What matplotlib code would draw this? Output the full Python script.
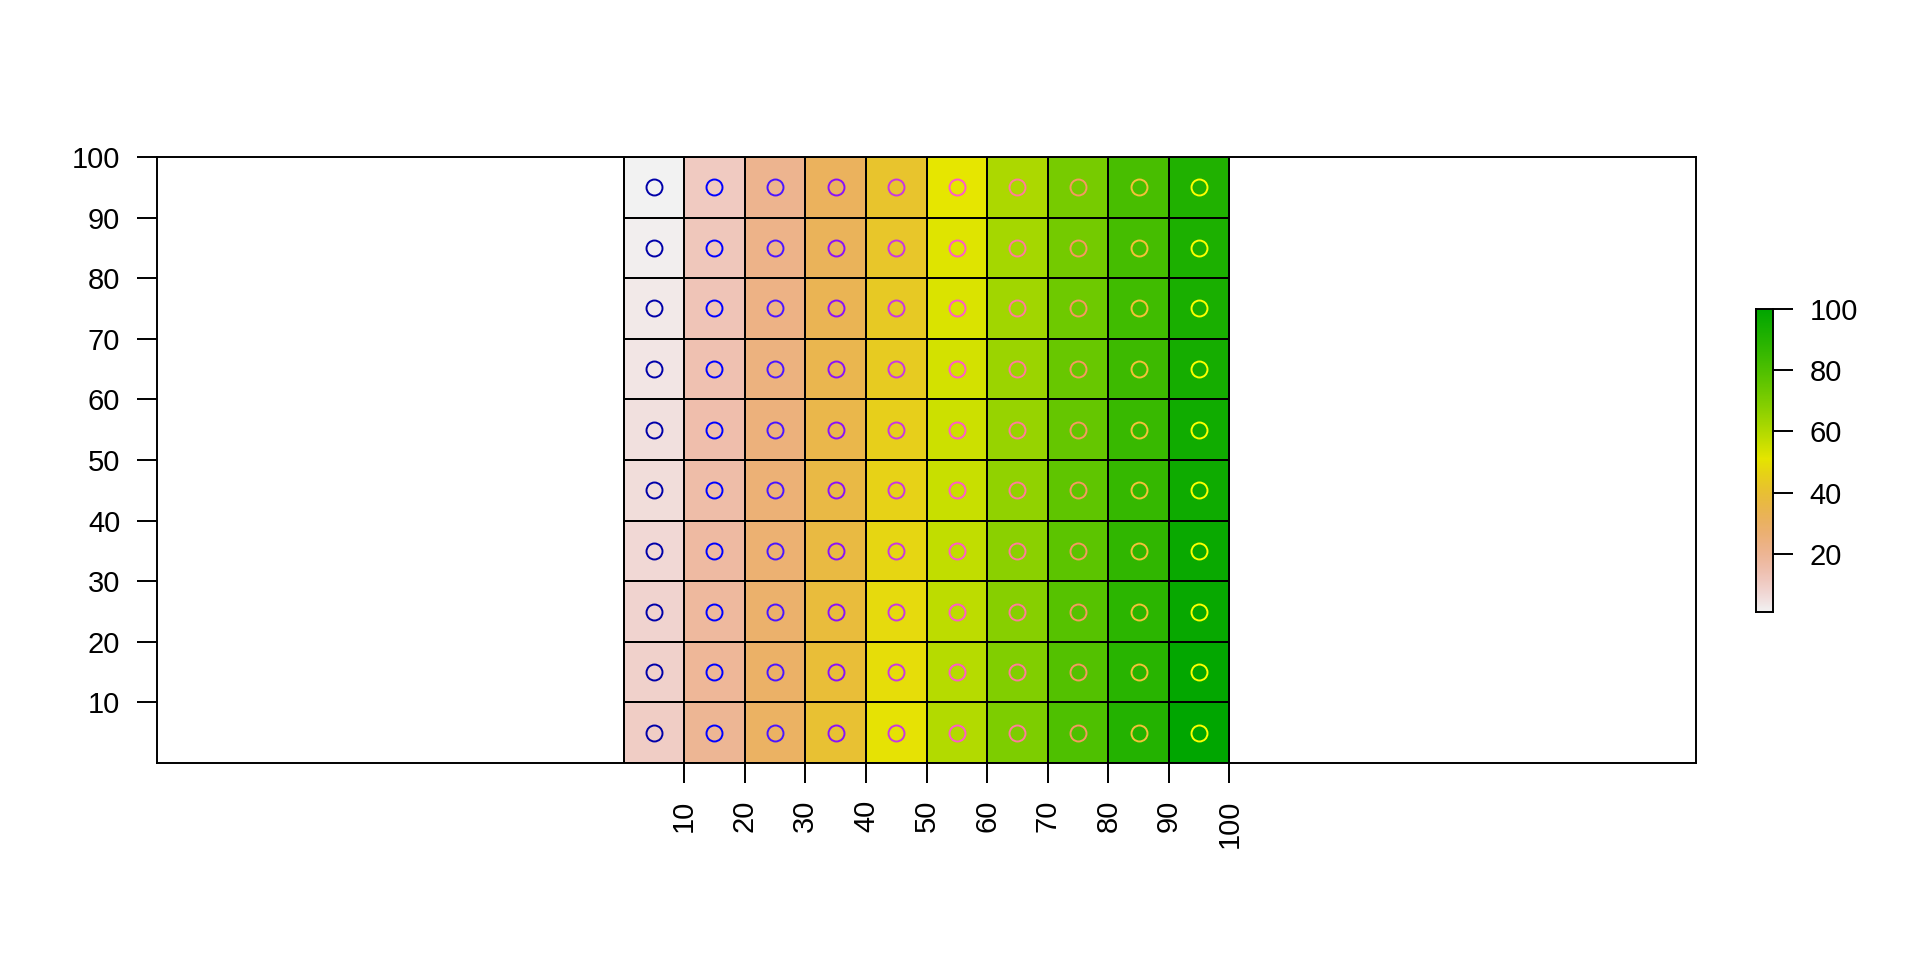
import colorsys
import numpy as np
import matplotlib
matplotlib.use("Agg")
import matplotlib.pyplot as plt
from matplotlib.colors import ListedColormap

plt.rcParams['font.family'] = ['Liberation Sans', 'DejaVu Sans']

# cell values, rows from top to bottom
cell_values = [
    [1, 11, 21, 31, 41, 51, 61, 71, 81, 91],
    [2, 12, 22, 32, 42, 52, 62, 72, 82, 92],
    [3, 13, 23, 33, 43, 53, 63, 73, 83, 93],
    [4, 14, 24, 34, 44, 54, 64, 74, 84, 94],
    [5, 15, 25, 35, 45, 55, 65, 75, 85, 95],
    [6, 16, 26, 36, 46, 56, 66, 76, 86, 96],
    [7, 17, 27, 37, 47, 57, 67, 77, 87, 97],
    [8, 18, 28, 38, 48, 58, 68, 78, 88, 98],
    [9, 19, 29, 39, 49, 59, 69, 79, 89, 99],
    [10, 20, 30, 40, 50, 60, 70, 80, 90, 100],
]
x_edges = [0, 10, 20, 30, 40, 50, 60, 70, 80, 90, 100]
y_edges = [100, 90, 80, 70, 60, 50, 40, 30, 20, 10, 0]
pt_x = [5, 15, 25, 35, 45, 55, 65, 75, 85, 95]
pt_y = [5, 15, 25, 35, 45, 55, 65, 75, 85, 95]
# point colour per column
pt_cols = ["#0000A8", "#0000FF", "#4A14FF", "#8A10F8", "#C838E0",
           "#FF5AC8", "#FF7C9C", "#F59A60", "#F5C238", "#FFFF00"]
axis_ticks = [10, 20, 30, 40, 50, 60, 70, 80, 90, 100]
cbar_ticks = [20, 40, 60, 80, 100]


def terrain_colors(n):
    # R's terrain.colors
    k = n // 2
    h = [4/12., 2/12., 0.]
    s = [1., 1., 0.]
    v = [0.65, 0.9, 0.95]
    out = []
    for hh, ss, vv in zip(np.linspace(h[0], h[1], k), np.linspace(s[0], s[1], k), np.linspace(v[0], v[1], k)):
        out.append(colorsys.hsv_to_rgb(hh, ss, vv))
    m = n - k + 1
    for hh, ss, vv in list(zip(np.linspace(h[1], h[2], m), np.linspace(s[1], s[2], m), np.linspace(v[1], v[2], m)))[1:]:
        out.append(colorsys.hsv_to_rgb(hh, ss, vv))
    return out

cmap = ListedColormap(terrain_colors(255)[::-1])
vals = np.array(cell_values)
vmin, vmax = vals.min(), vals.max()

lw = 1.4

fig = plt.figure(figsize=(19.2, 9.6), dpi=100)
ax = fig.add_axes([157/1920., 1 - 763/960., (1696-157)/1920., (763-157)/960.])
ax.pcolormesh(x_edges, y_edges, vals, cmap=cmap, vmin=vmin, vmax=vmax,
              edgecolors="black", linewidth=lw)
for i, c in enumerate(pt_cols):
    ax.plot([pt_x[i]] * len(pt_y), pt_y, "o", mfc="none", mec=c, ms=11.5, mew=1.4)
ax.set_xlim(-77, 177)
ax.set_ylim(0, 100)
ax.set_xticks(axis_ticks)
ax.set_xticklabels([str(t) for t in axis_ticks], rotation=90)
ax.set_yticks(axis_ticks)
ax.tick_params(length=14.4, width=lw, labelsize=21, pad=12)
for sp in ax.spines.values():
    sp.set_linewidth(lw)

# legend bar
cax = fig.add_axes([1756/1920., 1 - 612/960., 17/1920., 303/960.])
grad = np.linspace(vmin, vmax, 255).reshape(-1, 1)
cax.imshow(grad, cmap=cmap, vmin=vmin, vmax=vmax, aspect="auto", origin="lower",
           extent=[0, 1, vmin, vmax])
cax.set_xticks([])
cax.yaxis.tick_right()
cax.set_yticks(cbar_ticks)
cax.tick_params(length=14.4, width=lw, labelsize=21, pad=12)
for sp in cax.spines.values():
    sp.set_linewidth(lw)

fig.savefig("out.png", dpi=100)
